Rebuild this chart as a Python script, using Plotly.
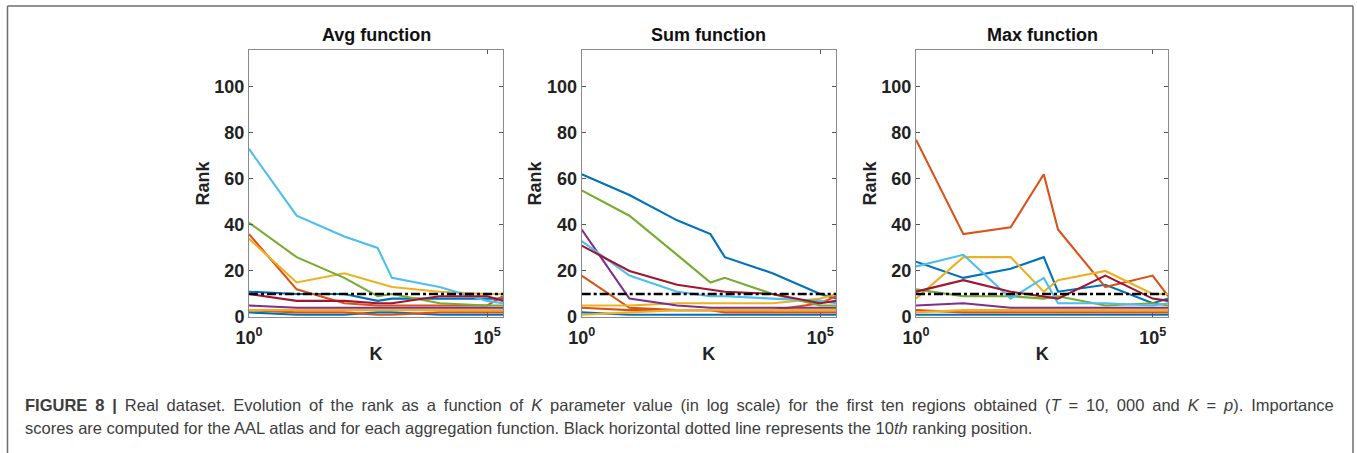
import plotly.graph_objects as go

# K parameter values (log scale); last value is K = p
k_values = [1, 10, 100, 500, 1000, 1e4, 1e5, 2.14e5]

panel_titles = ["Avg function", "Sum function", "Max function"]

# Rank of each of the ten regions (10 series per panel)
avg_ranks = [
    [11, 10, 10, 7, 8, 8, 8, 8],
    [36, 12, 6, 5, 5, 5, 5, 9],
    [34, 15, 19, 15, 13, 11, 10, 10],
    [5, 4, 4, 4, 4, 4, 4, 4],
    [41, 26, 17, 9, 10, 6, 5, 5],
    [73, 44, 35, 30, 17, 13, 7, 6],
    [10, 7, 7, 6, 6, 9, 9, 7],
    [2, 1, 1, 2, 2, 1, 1, 1],
    [3, 2, 2, 1, 1, 2, 2, 2],
    [3, 3, 3, 3, 3, 3, 3, 3],
]
sum_ranks = [
    [62, 53, 42, 36, 26, 19, 10, 8],
    [18, 4, 3, 3, 3, 3, 6, 9],
    [5, 5, 6, 6, 6, 6, 8, 10],
    [38, 8, 5, 4, 4, 4, 4, 4],
    [55, 44, 27, 15, 17, 10, 5, 5],
    [33, 18, 11, 9, 9, 8, 7, 6],
    [31, 20, 14, 12, 11, 10, 6, 7],
    [2, 1, 1, 1, 1, 1, 1, 1],
    [4, 3, 3, 3, 2, 2, 2, 2],
    [1, 2, 3, 3, 3, 3, 3, 3],
]
max_ranks = [
    [24, 17, 21, 26, 11, 14, 6, 8],
    [77, 36, 39, 62, 38, 13, 18, 9],
    [8, 26, 26, 11, 16, 20, 10, 10],
    [5, 6, 4, 4, 4, 4, 4, 4],
    [12, 9, 9, 8, 9, 5, 6, 5],
    [22, 27, 8, 17, 6, 6, 5, 6],
    [11, 16, 11, 9, 8, 18, 8, 7],
    [1, 1, 1, 1, 1, 1, 1, 1],
    [3, 2, 2, 2, 2, 2, 2, 2],
    [2, 3, 3, 3, 3, 3, 3, 3],
]
all_ranks = [avg_ranks, sum_ranks, max_ranks]

threshold = 10
y_ticks = [0, 20, 40, 60, 80, 100]
x_tickvals = [1, 1e5]
x_ticktext = ["10<sup>0</sup>", "10<sup>5</sup>"]

colors = ["#0072BD", "#D95319", "#EDB120", "#7E2F8E", "#77AC30",
          "#4DBEEE", "#A2142F", "#0072BD", "#D95319", "#EDB120"]

W, H = 1357, 453
x_domains_px = [(249, 503), (581.7, 836), (916, 1168.3)]
y_top_px, y_bot_px = 50, 317

FONT = "Liberation Sans"
fig = go.Figure()

for i, ranks in enumerate(all_ranks):
    sfx = "" if i == 0 else str(i + 1)
    for j, series in enumerate(ranks):
        fig.add_trace(go.Scatter(
            x=k_values, y=series, mode="lines",
            line=dict(color=colors[j], width=2.1),
            xaxis="x" + sfx, yaxis="y" + sfx, showlegend=False,
            hoverinfo="skip"))
    fig.add_trace(go.Scatter(
        x=[k_values[0], k_values[-1]], y=[threshold, threshold], mode="lines",
        line=dict(color="black", width=2.5, dash="dashdot"),
        xaxis="x" + sfx, yaxis="y" + sfx, showlegend=False, hoverinfo="skip"))

    x0, x1 = x_domains_px[i]
    axis_common = dict(showline=True, linecolor="#8a8a8a", linewidth=1,
                       mirror="ticks", ticks="inside", ticklen=4,
                       tickcolor="#555", showgrid=False, zeroline=False,
                       tickfont=dict(family=FONT, size=18, color="#222",
                                     weight="bold"))
    fig.update_layout(**{
        "xaxis" + sfx: dict(
            type="log", range=[0, 5.33], domain=[x0 / W, x1 / W],
            anchor="y" + sfx, tickvals=x_tickvals, ticktext=x_ticktext,
            ticklabelstandoff=4,
            title=dict(text="K", standoff=0,
                       font=dict(family=FONT, size=18, color="#222",
                                 weight="bold")),
            **axis_common),
        "yaxis" + sfx: dict(
            range=[0, 116], domain=[1 - y_bot_px / H, 1 - y_top_px / H],
            anchor="x" + sfx, tickvals=y_ticks,
            title=dict(text="Rank", standoff=0,
                       font=dict(family=FONT, size=18, color="#222",
                                 weight="bold")),
            **axis_common),
    })
    fig.add_annotation(
        text="<b>" + panel_titles[i] + "</b>", xref="paper", yref="paper",
        x=(x0 + x1) / 2 / W, y=1 - 35 / H, showarrow=False,
        xanchor="center", yanchor="middle",
        font=dict(family=FONT, size=18, color="#111"))

# caption (first line justified to the full width with thin spaces)
caption1 = ("<b>FIGURE 8 |</b> Real dataset. Evolution of the rank as a function of "
            "<i>K</i> parameter value (in log scale) for the first ten regions obtained "
            "(<i>T</i> = 10, 000 and <i>K</i> = <i>p</i>). Importance")
caption1 = caption1.replace(" ", " \u2009")
caption2 = ("scores are computed for the AAL atlas and for each aggregation function. "
            "Black horizontal dotted line represents the 10<i>th</i> ranking position.")
for txt, ypx in [(caption1, 405), (caption2, 428)]:
    fig.add_annotation(
        text=txt, xref="paper", yref="paper", x=23 / W, y=1 - ypx / H,
        showarrow=False, xanchor="left", yanchor="middle",
        font=dict(family=FONT, size=16.5, color="#3d3d3d"))

# outer figure frame (left, top, right)
frame = dict(type="line", xref="paper", yref="paper",
             line=dict(color="#6e6e6e", width=1.5))
fig.add_shape(x0=7.5 / W, x1=7.5 / W, y0=0, y1=1 - 6 / H, **frame)
fig.add_shape(x0=7.5 / W, x1=1353 / W, y0=1 - 6 / H, y1=1 - 6 / H, **frame)
fig.add_shape(x0=1353 / W, x1=1353 / W, y0=0, y1=1 - 6 / H, **frame)

fig.update_layout(width=W, height=H, margin=dict(l=0, r=0, t=0, b=0,
                                                 autoexpand=False),
                  paper_bgcolor="white", plot_bgcolor="white")
fig.write_html("out.html", config={"displayModeBar": False},
               post_script="document.body.style.margin='0';"
                           "document.body.style.overflow='hidden';")
